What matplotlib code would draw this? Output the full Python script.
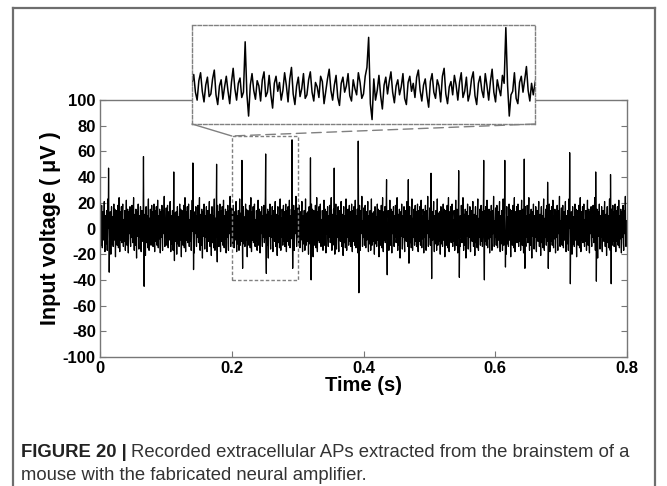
import numpy as np
import matplotlib
matplotlib.use("Agg")
import matplotlib.pyplot as plt
from matplotlib.patches import Rectangle, ConnectionPatch
from matplotlib.lines import Line2D

plt.rcParams['font.family'] = ['Liberation Sans', 'DejaVu Sans']
plt.rcParams['axes.unicode_minus'] = False

# ---------------- data ----------------
sample_step = 0.0005          # s
duration = 0.8                # s

# Background noise (uV): a HAND-TYPED APPROXIMATION, not point-by-point readings.
# Individual noise samples cannot be resolved in the reference image; the amplitude
# (about +/-20 uV) and rhythm were estimated from the zoomed inset, and this one
# 0.1 s block is repeated across the whole 0.8 s trace.
noise_pattern = [
    6, 16, -4, -13, 9, 18, -3, -15, 4, 13, -9, -6, 11, 21, -7, -18, 3, 10, -12, 2,
    14, -3, -17, 7, 23, 0, -13, 6, 12, -10, -4, 13, -6, -20, 4, 17, -2, -12, 9, 3,
    -14, 10, 19, -9, -4, 15, -7, -22, 6, 14, -3, 7, -13, -2, 18, 4, -15, 11, 24, -6,
    -18, 3, 13, -9, 0, 17, -11, -7, 10, 19, -4, -14, 7, 2, -10, 14, 8, -17, -3, 11,
    22, -2, -13, 4, 15, -10, -19, 6, 13, -4, 3, 17, -8, -14, 10, 0, -7, 18, 7, -11,
    -6, 14, 24, -3, -17, 8, 11, -13, -2, 15, -8, -23, 4, 13, -6, 8, 19, -4, -16, 3,
    10, -7, 2, 17, -11, -18, 7, 14, -3, 6, -10, 13, 21, -2, -14, 4, 11, -8, -21, 8,
    17, -4, -11, 10, 3, -15, 14, 23, -6, -17, 2, 8, -7, 15, 4, -13, 7, 18, -10, -3,
    13, -14, -6, 11, 19, -8, -18, 6, 14, -2, -10, 17, 3, -13, 8, 22, -4, -15, 10, 0,
    -8, 15, 6, -19, 4, 13, -7, -3, 18, -11, -17, 7, 14, -4, 10, 25, -2, -14, 6, -7,
]

# action potentials: time (s), positive peak (uV), negative trough (uV)
spike_times = [0.013, 0.066, 0.112, 0.141, 0.177, 0.2156, 0.2515, 0.2915,
               0.3197, 0.3557, 0.392, 0.435, 0.468, 0.5025, 0.5446, 0.5823,
               0.6143, 0.644, 0.6795, 0.713, 0.7523, 0.775]
spike_peaks = [47, 56, 44, 51, 50, 53, 58, 69, 55, 47, 68, 38, 38, 43, 45,
               53, 53, 54, 36, 59, 44, 42]
spike_troughs = [-34, -45, -25, -32, -26, -31, -35, -31, -40, -20, -50, -36,
                 -27, -39, -38, -40, -30, -31, -31, -43, -41, -43]

x_ticks = [0, 0.2, 0.4, 0.6, 0.8]
x_tick_labels = ['0', '0.2', '0.4', '0.6', '0.8']
y_ticks = [-100, -80, -60, -40, -20, 0, 20, 40, 60, 80, 100]

zoom_window_t = (0.2, 0.3)
zoom_window_v = (-40, 72)

# ---------------- build trace ----------------
n = int(round(duration / sample_step))
t = np.arange(n) * sample_step
reps = int(np.ceil(n / len(noise_pattern)))
v = np.tile(np.array(noise_pattern, dtype=float), reps)[:n]
for ts, pk, tr in zip(spike_times, spike_peaks, spike_troughs):
    i = int(round(ts / sample_step))
    v[i] = pk
    if i + 2 < n:
        v[i + 2] = tr

# ---------------- figure ----------------
fig = plt.figure(figsize=(6.67, 4.86), dpi=100)
W, H = 667, 486

def fx(px):
    return px / W

def fy(py):
    return 1 - py / H

# outer frame
frame_col = '#6e6e6e'
fig.add_artist(Line2D([fx(12.5), fx(12.5)], [fy(8), 0], color=frame_col, lw=1.6))
fig.add_artist(Line2D([fx(12.5), fx(655)], [fy(8), fy(8)], color=frame_col, lw=1.6))
fig.add_artist(Line2D([fx(655), fx(655)], [fy(8), 0], color=frame_col, lw=1.6))

ax = fig.add_axes([fx(100), fy(357), fx(627) - fx(100), fy(100) - fy(357)])
ax.plot(t, v, color='black', lw=0.9)
ax.set_xlim(0, 0.8)
ax.set_ylim(-100, 100)
ax.set_xticks(x_ticks)
ax.set_xticklabels(x_tick_labels)
ax.set_yticks(y_ticks)
for s in ax.spines.values():
    s.set_color('#777777')
    s.set_linewidth(1.0)
ax.tick_params(direction='in', length=4, width=0.8, color='#777777',
               top=False, right=True, labelsize=12, pad=3)
for lab in ax.get_xticklabels() + ax.get_yticklabels():
    lab.set_fontweight('bold')
ax.set_xlabel('Time (s)', fontsize=14.5, fontweight='bold', labelpad=0)
ax.set_ylabel('Input voltage ( μV )', fontsize=15.5, fontweight='bold', labelpad=1)

# dashed zoom rectangle
dash_col = '#808080'
rect = Rectangle((zoom_window_t[0], zoom_window_v[0]),
                 zoom_window_t[1] - zoom_window_t[0],
                 zoom_window_v[1] - zoom_window_v[0],
                 fill=False, ls=(0, (2.5, 1.5)), lw=1.0, ec=dash_col, zorder=5)
ax.add_patch(rect)

# inset
axin = fig.add_axes([fx(192), fy(124), fx(535) - fx(192), fy(25) - fy(124)])
axin.plot(t, v, color='black', lw=1.1)
axin.set_xlim(*zoom_window_t)
axin.set_ylim(*zoom_window_v)
axin.set_xticks([])
axin.set_yticks([])
axin.set_facecolor('white')
for s in axin.spines.values():
    s.set_linestyle((0, (2.5, 1.5)))
    s.set_color(dash_col)
    s.set_linewidth(1.0)

# connectors
c1 = ConnectionPatch(xyA=(0, 0), coordsA=axin.transAxes,
                     xyB=(zoom_window_t[0], zoom_window_v[1]), coordsB=ax.transData,
                     color=dash_col, lw=1.0, ls='-')
fig.add_artist(c1)
c2 = ConnectionPatch(xyA=(1, 0), coordsA=axin.transAxes,
                     xyB=(zoom_window_t[0], zoom_window_v[1]), coordsB=ax.transData,
                     color=dash_col, lw=1.0, ls=(0, (7, 4)))
fig.add_artist(c2)

# caption
cap_size = 13.3
t1 = fig.text(fx(21), fy(452), 'FIGURE 20 |', fontsize=cap_size, fontweight='bold',
              color='#222222', va='center', ha='left')
fig.canvas.draw()
bb = t1.get_window_extent()
fig.text(bb.x1 / W + fx(4), fy(452),
         'Recorded extracellular APs extracted from the brainstem of a',
         fontsize=cap_size, color='#333333', va='center', ha='left')
fig.text(fx(21), fy(475), 'mouse with the fabricated neural amplifier.',
         fontsize=cap_size, color='#333333', va='center', ha='left')

fig.savefig('out.png', dpi=100)
